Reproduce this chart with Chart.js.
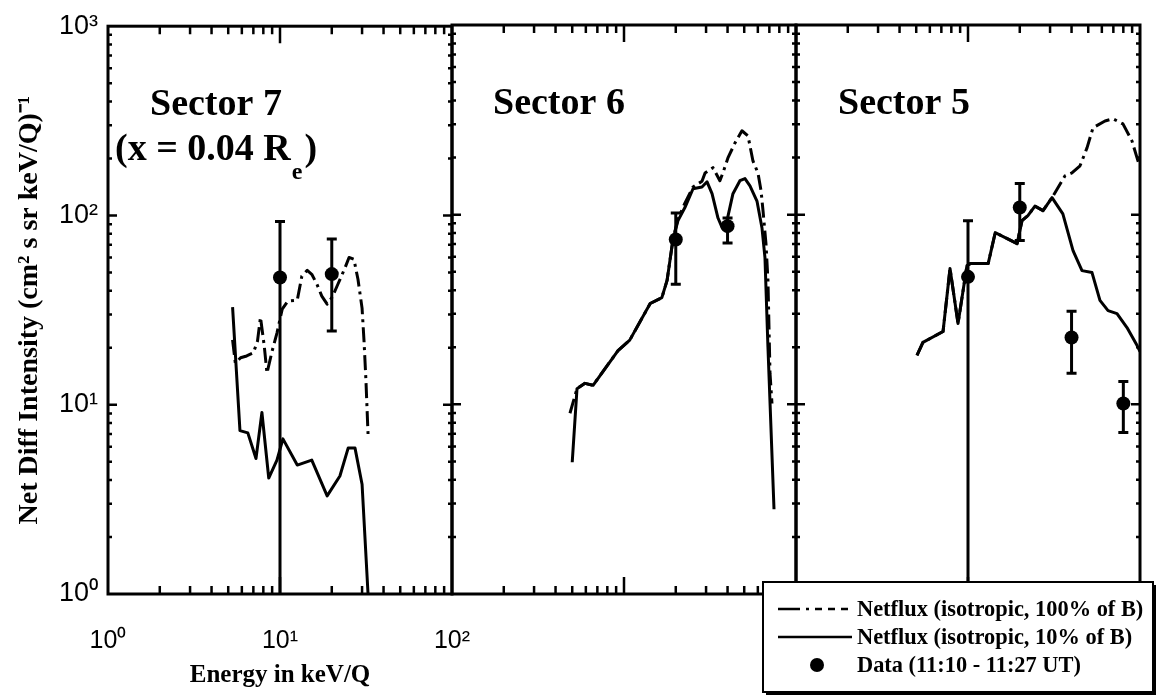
<!DOCTYPE html>
<html>
<head>
<meta charset="utf-8">
<script src="https://cdn.jsdelivr.net/npm/chart.js@4.4.0/dist/chart.umd.min.js"></script>
<style>
  html, body { margin: 0; padding: 0; background: #fff; }
  #wrap { position: relative; width: 1158px; height: 699px; overflow: hidden; background: #fff; }
  #wrap canvas { position: absolute; left: 0; top: 0; }
</style>
</head>
<body>
<div id="wrap">
  <canvas id="c7" width="1158" height="699"></canvas>
  <canvas id="c6" width="1158" height="699"></canvas>
  <canvas id="c5" width="1158" height="699"></canvas>
</div>
<script>
// ---- Sector 7 (x = 0.04 Re) ----
const s7E100 = [5.3, 5.5, 5.9, 6.4, 7.0, 7.4, 7.7, 8.1, 8.4, 9.0, 9.6, 10.3, 11.1, 12.6, 13.4, 14.4, 15.3, 16.4, 17.5, 18.8, 20.1, 21.7, 23.9, 25.2, 26.9, 28.4, 30.0, 30.8, 31.6, 32.5];
const s7F100 = [22, 16.6, 17.7, 18.1, 18.8, 21.7, 29, 20.4, 14.7, 19.2, 23.9, 32, 35.3, 35.7, 47.8, 51.3, 48.9, 43.3, 37.5, 34, 37, 43.3, 53, 60, 58.7, 46, 32.4, 21.7, 13.4, 7.0];
const s7E10 = [5.3, 5.85, 6.5, 7.25, 7.85, 8.6, 9.6, 10.4, 12.6, 15.3, 18.8, 22.3, 24.9, 27.3, 30.0, 32.5];
const s7F10 = [32.8, 7.3, 7.1, 5.2, 9.1, 4.1, 5.1, 6.6, 4.8, 5.1, 3.3, 4.2, 5.9, 5.9, 3.8, 1.0];
const s7PtE = [10, 20];
const s7PtF = [47, 49];
const s7PtHi = [93, 75];
const s7PtLo = [0, 24.5];

// ---- Sector 6 ----
const s6E100 = [4.85, 5.33, 5.93, 6.61, 9.23, 10.8, 14.2, 16.6, 17.8, 19.3, 20.6, 22.6, 25.2, 28.4, 29.6, 32.9, 36.1, 37.6, 40.2, 44.2, 48.5, 52.6, 56.2, 60.1, 62.6, 64.3, 66.9, 68.7, 70.6, 72.5];
const s6F100 = [8.97, 12.1, 12.9, 12.6, 19.2, 21.8, 34.0, 36.5, 45, 74.8, 95, 115, 140, 150, 166, 177, 151, 166, 199, 239, 277, 260, 192, 166, 134, 105, 70.4, 45, 14.6, 10.1];
const s6E10 = [5.0, 5.33, 5.93, 6.61, 9.23, 10.8, 14.2, 16.6, 17.8, 19.3, 20.6, 22.6, 25.2, 28.4, 30.4, 32.5, 35.2, 37.2, 39.7, 43.0, 47.2, 50.5, 54.0, 59.3, 63.4, 66.0, 68.7, 74.5];
const s6F10 = [4.95, 12.1, 12.9, 12.6, 19.2, 21.8, 34.0, 36.5, 45, 74.8, 93, 109, 137, 140, 149, 129, 96, 85.4, 93, 129, 151, 155, 142, 118, 85.4, 59.4, 20, 2.8];
const s6PtE = [20, 40];
const s6PtF = [74, 87];
const s6PtHi = [102, 96];
const s6PtLo = [43, 71];

// ---- Sector 5 ----
const s5E100 = [5.05, 5.47, 7.16, 7.86, 8.75, 9.86, 10.3, 13.1, 14.4, 19.3, 20.6, 22.3, 24.5, 27.3, 30.8, 33.4, 36.6, 40.2, 44.8, 49.2, 53.3, 62.6, 69.7, 79.6, 89.8, 97.3, 100];
const s5F100 = [18.1, 21.2, 24.2, 52, 26.7, 53.9, 55.2, 55.2, 80.4, 70.4, 93, 98.8, 111, 105, 123, 139, 160, 166, 181, 225, 287, 312, 320, 301, 245, 192, 180];
const s5E10 = [5.05, 5.47, 7.16, 7.86, 8.75, 9.86, 10.3, 13.1, 14.4, 19.3, 20.6, 22.3, 24.5, 27.3, 30.8, 35.6, 40.8, 46.0, 52.6, 58.5, 65.2, 73.5, 84.0, 96.2, 100];
const s5F10 = [18.1, 21.2, 24.2, 52, 26.7, 53.9, 55.2, 55.2, 80.4, 70.4, 93, 98.8, 111, 105, 123, 101, 64.6, 50.7, 49.5, 35.3, 31.2, 30.1, 25.4, 20.4, 19];
const s5PtE = [10, 20, 40, 80];
const s5PtF = [47, 109, 22.5, 10.1];
const s5PtHi = [93, 146, 31, 13.2];
const s5PtLo = [0, 73, 14.6, 7.1];

// ---- Axes and text ----
const xTickValues = [1, 10, 100];
const yTickValues = [1, 10, 100, 1000];
const panelTitles = ['Sector 7', 'Sector 6', 'Sector 5'];
const sector7Position = ['(x = 0.04 R', 'e', ')'];
const legendLabels = ['Netflux (isotropic, 100% of B)', 'Netflux (isotropic, 10% of B)', 'Data (11:10 - 11:27 UT)'];
const xTitle = 'Energy in keV/Q';
const yTitle = 'Net Diff Intensity (cm\u00B2 s sr keV/Q)\u207B\u00B9';

const SERIF = '"Liberation Serif", "Times New Roman", serif';
const SANS = '"Liberation Sans", Arial, sans-serif';
const SUP = ['\u2070', '\u00B9', '\u00B2', '\u00B3'];
const pow10Label = v => '10' + SUP[Math.round(Math.log10(v))];

const W = 1158, H = 699;
const PLOT_TOP = 25, PLOT_BOTTOM = 594;
const DASH_DOT = [15, 5, 3, 5];

function curve(E, F, dashed) {
  return {
    data: E.map((e, i) => ({ x: e, y: F[i] })),
    showLine: true,
    borderColor: '#000',
    borderWidth: 3,
    borderDash: dashed ? DASH_DOT : [],
    borderCapStyle: 'butt',
    borderJoinStyle: 'round',
    pointRadius: 0,
    pointHoverRadius: 0,
    tension: 0
  };
}

function measured(E, F, hi, lo) {
  return {
    data: E.map((e, i) => ({ x: e, y: F[i] })),
    showLine: false,
    pointRadius: 7,
    pointHoverRadius: 7,
    pointBackgroundColor: '#000',
    pointBorderColor: '#000',
    pointBorderWidth: 0,
    errHi: hi,
    errLo: lo
  };
}

// Inward log ticks and a heavy frame around each panel
const panelFrame = {
  id: 'panelFrame',
  afterDraw(chart) {
    const { ctx, chartArea: a } = chart;
    const x = chart.scales.x, y = chart.scales.y;
    ctx.save();
    ctx.strokeStyle = '#000';
    ctx.lineCap = 'butt';
    ctx.lineWidth = 2.5;
    ctx.beginPath();
    for (let d = 0; d < 2; d++) {
      for (let k = 1; k <= 9; k++) {
        if (k === 1 && d === 0) continue;
        const px = x.getPixelForValue(k * Math.pow(10, d));
        const len = k === 1 ? 17 : 8;
        ctx.moveTo(px, a.bottom); ctx.lineTo(px, a.bottom - len);
        ctx.moveTo(px, a.top); ctx.lineTo(px, a.top + len);
      }
    }
    for (let d = 0; d < 3; d++) {
      for (let k = 1; k <= 9; k++) {
        if (k === 1 && d === 0) continue;
        const py = y.getPixelForValue(k * Math.pow(10, d));
        const len = k === 1 ? 9 : 4;
        ctx.moveTo(a.left, py); ctx.lineTo(a.left + len, py);
        ctx.moveTo(a.right, py); ctx.lineTo(a.right - len, py);
      }
    }
    ctx.stroke();
    ctx.lineWidth = 3;
    ctx.strokeRect(a.left, a.top, a.right - a.left, a.bottom - a.top);
    ctx.restore();
  }
};

// Vertical error bars for the measured points
const errorBars = {
  id: 'errorBars',
  beforeDatasetsDraw(chart) {
    const { ctx, chartArea: a } = chart;
    const x = chart.scales.x, y = chart.scales.y;
    ctx.save();
    ctx.strokeStyle = '#000';
    ctx.lineWidth = 3;
    chart.data.datasets.forEach(ds => {
      if (!ds.errHi) return;
      ds.data.forEach((p, i) => {
        const px = x.getPixelForValue(p.x);
        const top = y.getPixelForValue(ds.errHi[i]);
        const lo = ds.errLo[i];
        const bot = lo > 0 ? y.getPixelForValue(lo) : a.bottom;
        ctx.beginPath();
        ctx.moveTo(px, top); ctx.lineTo(px, bot);
        ctx.moveTo(px - 5, top); ctx.lineTo(px + 5, top);
        if (lo > 0) { ctx.moveTo(px - 5, bot); ctx.lineTo(px + 5, bot); }
        ctx.stroke();
      });
    });
    ctx.restore();
  }
};

// Panel headings
function headingPlugin(idx, dx, baseline, withPosition) {
  return {
    id: 'heading' + idx,
    afterDraw(chart) {
      const { ctx, chartArea: a } = chart;
      ctx.save();
      ctx.fillStyle = '#000';
      ctx.textBaseline = 'alphabetic';
      ctx.textAlign = 'left';
      ctx.font = 'bold 38px ' + SERIF;
      ctx.fillText(panelTitles[idx], a.left + dx, baseline);
      if (withPosition) {
        let px = a.left + 7;
        ctx.fillText(sector7Position[0], px, baseline + 45);
        px += ctx.measureText(sector7Position[0]).width + 1;
        ctx.font = 'bold 24px ' + SERIF;
        ctx.fillText(sector7Position[1], px, baseline + 64);
        px += ctx.measureText(sector7Position[1]).width + 2;
        ctx.font = 'bold 38px ' + SERIF;
        ctx.fillText(sector7Position[2], px, baseline + 45);
      }
      ctx.restore();
    }
  };
}

// Boxed key in the lower right corner
const keyBox = {
  id: 'keyBox',
  afterDraw(chart) {
    const ctx = chart.ctx;
    const bx = 763, by = 582, bw = 390, bh = 110;
    ctx.save();
    ctx.fillStyle = '#000';
    ctx.fillRect(bx + 3, by + 3, bw, bh);
    ctx.fillStyle = '#fff';
    ctx.fillRect(bx, by, bw, bh);
    ctx.strokeStyle = '#000';
    ctx.lineWidth = 2;
    ctx.strokeRect(bx, by, bw, bh);

    const rows = [by + 27, by + 55, by + 83];
    ctx.lineWidth = 2.5;
    ctx.setLineDash([22, 6, 3, 6, 7, 6, 7, 6, 7]);
    ctx.beginPath(); ctx.moveTo(778, rows[0]); ctx.lineTo(853, rows[0]); ctx.stroke();
    ctx.setLineDash([]);
    ctx.beginPath(); ctx.moveTo(778, rows[1]); ctx.lineTo(852, rows[1]); ctx.stroke();
    ctx.fillStyle = '#000';
    ctx.beginPath(); ctx.arc(817, rows[2], 7, 0, Math.PI * 2); ctx.fill();

    ctx.font = 'bold 22.4px ' + SERIF;
    ctx.textBaseline = 'middle';
    ctx.textAlign = 'left';
    legendLabels.forEach((t, i) => ctx.fillText(t, 857, rows[i] + 1));
    ctx.restore();
  }
};

function baseOptions(padding) {
  return {
    responsive: false,
    animation: false,
    events: [],
    layout: { padding },
    plugins: { legend: { display: false }, tooltip: { enabled: false } },
    scales: {
      x: { type: 'logarithmic', min: 1, max: 100, display: false },
      y: { type: 'logarithmic', min: 1, max: 1000, display: false }
    }
  };
}

// Left panel carries the labelled axes
const opt7 = baseOptions({ left: 0, right: W - 452, top: PLOT_TOP, bottom: 0 });
opt7.scales.x = {
  type: 'logarithmic', min: 1, max: 100, position: 'bottom',
  afterFit(s) { s.height = H - PLOT_BOTTOM; },
  afterBuildTicks(s) { s.ticks = xTickValues.map(v => ({ value: v })); },
  grid: { display: false, drawTicks: false },
  border: { display: false },
  ticks: { padding: 32, color: '#000', font: { family: SANS, size: 25 }, maxRotation: 0, autoSkip: false, callback: v => pow10Label(v) },
  title: { display: true, text: xTitle, color: '#000', font: { family: SERIF, size: 25, weight: 'bold' }, padding: { top: 0, bottom: 8 } }
};
opt7.scales.y = {
  type: 'logarithmic', min: 1, max: 1000, position: 'left',
  afterFit(s) { s.width = 108; },
  afterBuildTicks(s) { s.ticks = yTickValues.map(v => ({ value: v })); },
  grid: { display: false, drawTicks: false },
  border: { display: false },
  ticks: { padding: 10, color: '#000', font: { family: SANS, size: 27 }, autoSkip: false, callback: v => pow10Label(v) },
  title: { display: true, text: yTitle, color: '#000', font: { family: SERIF, size: 28, weight: 'bold' }, padding: { top: 13, bottom: 0 } }
};

new Chart(document.getElementById('c7'), {
  type: 'scatter',
  data: { datasets: [curve(s7E100, s7F100, true), curve(s7E10, s7F10, false), measured(s7PtE, s7PtF, s7PtHi, s7PtLo)] },
  options: opt7,
  plugins: [errorBars, panelFrame, headingPlugin(0, 42, 115, true)]
});

new Chart(document.getElementById('c6'), {
  type: 'scatter',
  data: { datasets: [curve(s6E100, s6F100, true), curve(s6E10, s6F10, false), measured(s6PtE, s6PtF, s6PtHi, s6PtLo)] },
  options: baseOptions({ left: 452, right: W - 796, top: PLOT_TOP, bottom: H - PLOT_BOTTOM }),
  plugins: [errorBars, panelFrame, headingPlugin(1, 41, 114, false)]
});

new Chart(document.getElementById('c5'), {
  type: 'scatter',
  data: { datasets: [curve(s5E100, s5F100, true), curve(s5E10, s5F10, false), measured(s5PtE, s5PtF, s5PtHi, s5PtLo)] },
  options: baseOptions({ left: 796, right: W - 1140, top: PLOT_TOP, bottom: H - PLOT_BOTTOM }),
  plugins: [errorBars, panelFrame, headingPlugin(2, 42, 114, false), keyBox]
});
</script>
</body>
</html>
